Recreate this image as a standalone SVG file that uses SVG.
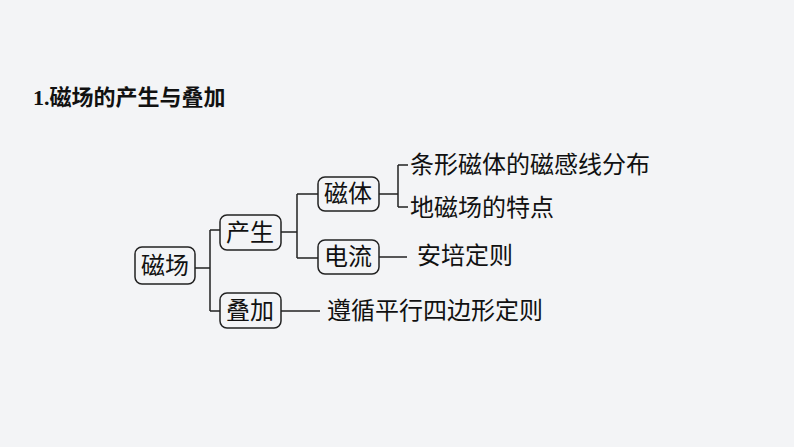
<svg xmlns="http://www.w3.org/2000/svg" width="794" height="447" viewBox="0 0 794 447">
<style>
.b{fill:none;stroke:#222;stroke-width:1.5}
.t{font-family:"Liberation Serif","Noto Sans CJK SC",serif;font-size:24px;fill:#111;dominant-baseline:central}
.c{text-anchor:middle}
</style>
<rect width="794" height="447" fill="#f3f4f6"/>
<text x="33" y="97" class="t" style="font-weight:bold;font-size:22px">1.磁场的产生与叠加</text>
<g id="connectors" class="b">
<path d="M195 268H210M210 230V311M210 230H220M210 311H220"/>
<path d="M281 232H297M297 194V258M297 194H318M297 258H318"/>
<path d="M379 194H398M398 165V207M398 165H408M398 207H408"/>
<path d="M379 257H407"/>
<path d="M281 311H320"/>
</g>
<g id="n1"><rect class="b" x="135" y="247" width="60" height="37" rx="7"/><text class="t c" x="165" y="266">磁场</text></g>
<g id="n2"><rect class="b" x="220" y="215" width="61" height="35" rx="7"/><text class="t c" x="250" y="233">产生</text></g>
<g id="n3"><rect class="b" x="220" y="293" width="61" height="35" rx="7"/><text class="t c" x="250" y="311">叠加</text></g>
<g id="n4"><rect class="b" x="318" y="177" width="61" height="34" rx="7"/><text class="t c" x="348" y="194">磁体</text></g>
<g id="n5"><rect class="b" x="318" y="240" width="61" height="34" rx="7"/><text class="t c" x="348" y="257">电流</text></g>
<g id="n6"><text class="t" x="410" y="165">条形磁体的磁感线分布</text></g>
<g id="n7"><text class="t" x="410" y="208">地磁场的特点</text></g>
<g id="n8"><text class="t" x="417" y="256">安培定则</text></g>
<g id="n9"><text class="t" x="327" y="311">遵循平行四边形定则</text></g>
</svg>
